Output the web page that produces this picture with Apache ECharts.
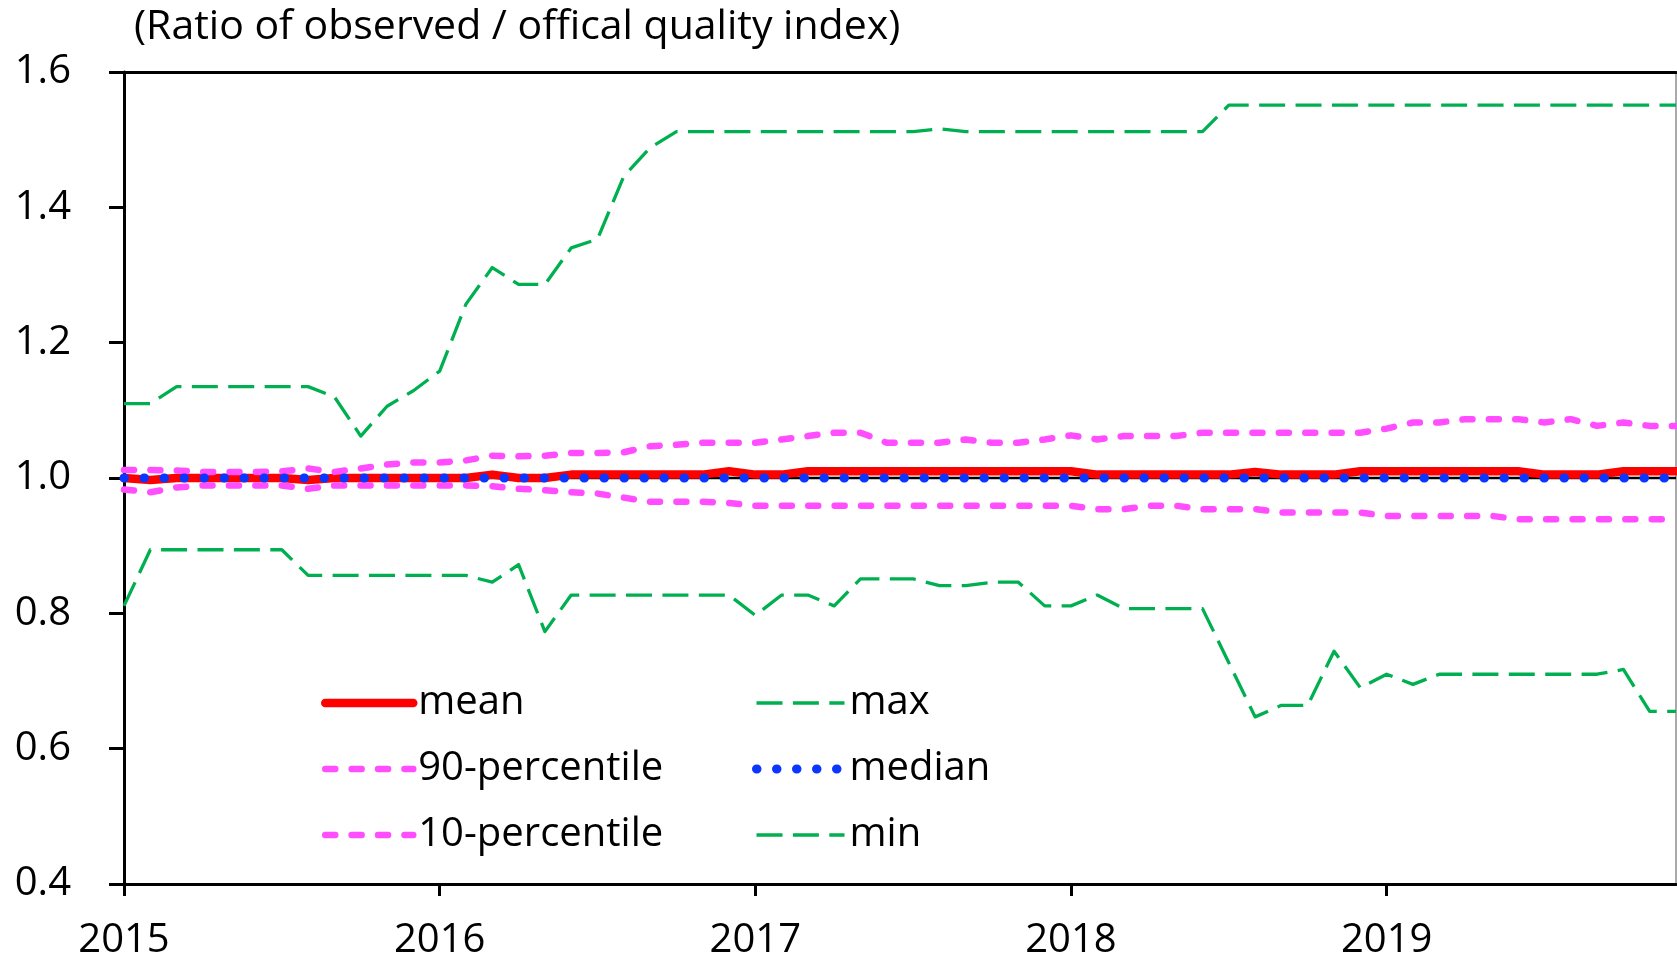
<!doctype html>
<html lang="en">
<head>
  <meta charset="utf-8">
  <title>Observed / official quality index</title>
  <script src="https://cdn.jsdelivr.net/npm/echarts@6/dist/echarts.min.js"></script>
  <style>
    html, body { margin: 0; padding: 0; background: #fff; }
    #chartmain { width: 1677px; height: 961px; }
  </style>
</head>
<body>
<div id="chartmain"></div>
<script>
  // monthly data, Jan 2015 .. Dec 2019
  var years = ['2015', '2016', '2017', '2018', '2019'];

  var meanData = [
    1.000, 0.997, 1.000, 1.000, 1.000, 1.000, 1.000, 0.997, 1.000, 1.000, 1.000, 1.000,
    1.000, 1.000, 1.005, 1.000, 1.000, 1.005, 1.005, 1.005, 1.005, 1.005, 1.005, 1.010,
    1.005, 1.005, 1.010, 1.010, 1.010, 1.010, 1.010, 1.010, 1.010, 1.010, 1.010, 1.010,
    1.010, 1.005, 1.005, 1.005, 1.005, 1.005, 1.005, 1.009, 1.005, 1.005, 1.005, 1.010,
    1.010, 1.010, 1.010, 1.010, 1.010, 1.010, 1.005, 1.005, 1.005, 1.010, 1.010, 1.010
  ];
  var p90Data = [
    1.012, 1.012, 1.011, 1.009, 1.009, 1.009, 1.010, 1.014, 1.009, 1.014, 1.020, 1.023,
    1.023, 1.026, 1.033, 1.032, 1.033, 1.037, 1.037, 1.038, 1.047, 1.049, 1.052, 1.052,
    1.052, 1.057, 1.062, 1.067, 1.067, 1.052, 1.052, 1.052, 1.057, 1.052, 1.052, 1.057,
    1.063, 1.057, 1.062, 1.062, 1.062, 1.067, 1.067, 1.067, 1.067, 1.067, 1.067, 1.067,
    1.073, 1.082, 1.082, 1.087, 1.087, 1.087, 1.082, 1.087, 1.077, 1.082, 1.077, 1.077
  ];
  var p10Data = [
    0.983, 0.979, 0.986, 0.989, 0.989, 0.989, 0.989, 0.984, 0.989, 0.989, 0.989, 0.989,
    0.989, 0.989, 0.988, 0.984, 0.982, 0.979, 0.977, 0.971, 0.965, 0.965, 0.965, 0.963,
    0.959, 0.959, 0.959, 0.959, 0.959, 0.959, 0.959, 0.959, 0.959, 0.959, 0.959, 0.959,
    0.959, 0.954, 0.954, 0.959, 0.959, 0.954, 0.954, 0.954, 0.949, 0.949, 0.949, 0.949,
    0.944, 0.944, 0.944, 0.944, 0.944, 0.939, 0.939, 0.939, 0.939, 0.939, 0.939, 0.939
  ];
  var maxData = [
    1.110, 1.110, 1.135, 1.135, 1.135, 1.135, 1.135, 1.135, 1.120, 1.062, 1.106, 1.129,
    1.158, 1.257, 1.311, 1.286, 1.286, 1.340, 1.353, 1.446, 1.488, 1.512, 1.512, 1.512,
    1.512, 1.512, 1.512, 1.512, 1.512, 1.512, 1.512, 1.516, 1.512, 1.512, 1.512, 1.512,
    1.512, 1.512, 1.512, 1.512, 1.512, 1.512, 1.551, 1.551, 1.551, 1.551, 1.551, 1.551,
    1.551, 1.551, 1.551, 1.551, 1.551, 1.551, 1.551, 1.551, 1.551, 1.551, 1.551, 1.551
  ];
  var medianData = [
    1.000, 1.000, 1.000, 1.000, 1.000, 1.000, 1.000, 1.000, 1.000, 1.000, 1.000, 1.000,
    1.000, 1.000, 1.000, 1.000, 1.000, 1.000, 1.000, 1.000, 1.000, 1.000, 1.000, 1.000,
    1.000, 1.000, 1.000, 1.000, 1.000, 1.000, 1.000, 1.000, 1.000, 1.000, 1.000, 1.000,
    1.000, 1.000, 1.000, 1.000, 1.000, 1.000, 1.000, 1.000, 1.000, 1.000, 1.000, 1.000,
    1.000, 1.000, 1.000, 1.000, 1.000, 1.000, 1.000, 1.000, 1.000, 1.000, 1.000, 1.000
  ];
  var minData = [
    0.811, 0.894, 0.894, 0.894, 0.894, 0.894, 0.894, 0.856, 0.856, 0.856, 0.856, 0.856,
    0.856, 0.856, 0.846, 0.872, 0.773, 0.827, 0.827, 0.827, 0.827, 0.827, 0.827, 0.827,
    0.797, 0.827, 0.827, 0.811, 0.851, 0.851, 0.851, 0.841, 0.841, 0.846, 0.846, 0.811,
    0.811, 0.827, 0.807, 0.807, 0.807, 0.807, 0.727, 0.647, 0.664, 0.664, 0.744, 0.690,
    0.710, 0.695, 0.710, 0.710, 0.710, 0.710, 0.710, 0.710, 0.710, 0.717, 0.655, 0.655
  ];
  var refLevel = 1.0;

  var FONT = '"Open Sans", Lato, sans-serif';

  var months = [];
  years.forEach(function (y) {
    for (var m = 1; m <= 12; m++) {
      months.push(y + '-' + (m < 10 ? '0' + m : m));
    }
  });
  var refData = months.map(function () { return refLevel; });

  // line looks
  var meanStyle = { color: '#ff0000', width: 8.5, type: 'solid', cap: 'round', join: 'round' };
  var pctStyle = { color: '#ff4dff', width: 6.5, type: [10, 16.4], cap: 'round', join: 'round' };
  var extStyle = { color: '#00b050', width: 3.3, type: [26, 10.4], cap: 'butt', join: 'round' };
  var medStyle = { color: '#0a36ff', width: 9, type: [0.5, 19.5], cap: 'round' };

  function lineSeries(name, data, style, z) {
    return {
      name: name,
      type: 'line',
      data: data,
      symbol: 'none',
      z: z,
      lineStyle: style,
      itemStyle: { color: style.color },
      emphasis: { disabled: true }
    };
  }

  // legend sample = the line only, symbol hidden
  function legendItem(name, style) {
    return { name: name, lineStyle: style, itemStyle: { color: style.color, opacity: 0 } };
  }

  var legendText = { fontFamily: FONT, fontSize: 40, lineHeight: 40, color: '#000' };

  function init() {
    var myChart = echarts.init(document.getElementById('chartmain'), null, { renderer: 'canvas' });
    var option = {
      backgroundColor: '#fff',
      animation: false,
      title: {
        text: '(Ratio of observed / offical quality index)',
        left: 134,
        top: 5,
        padding: 0,
        textStyle: { fontFamily: FONT, fontSize: 41, lineHeight: 44, fontWeight: 'normal', color: '#000' }
      },
      grid: {
        left: 124,
        top: 72,
        width: 1552,
        height: 814,
        show: true,
        borderColor: '#555',
        borderWidth: 1
      },
      legend: [
        {
          orient: 'vertical',
          left: 321,
          top: 683,
          padding: 0,
          itemWidth: 88,
          itemHeight: 14,
          itemGap: 26,
          selectedMode: false,
          textStyle: legendText,
          data: [
            legendItem('mean', meanStyle),
            legendItem('90-percentile', pctStyle),
            legendItem('10-percentile', pctStyle)
          ]
        },
        {
          orient: 'vertical',
          left: 752,
          top: 683,
          padding: 0,
          itemWidth: 88,
          itemHeight: 14,
          itemGap: 26,
          selectedMode: false,
          textStyle: legendText,
          data: [
            legendItem('max', extStyle),
            legendItem('median', medStyle),
            legendItem('min', extStyle)
          ]
        }
      ],
      xAxis: [
        {
          type: 'category',
          data: months,
          boundaryGap: false,
          axisLine: { show: true, lineStyle: { color: '#000', width: 3 } },
          axisTick: { show: true, inside: false, length: 12, interval: 11, lineStyle: { color: '#000', width: 3 } },
          axisLabel: {
            interval: 11,
            margin: 37,
            fontFamily: FONT,
            fontSize: 40,
            lineHeight: 40,
            color: '#000',
            formatter: function (v) { return v.slice(0, 4); }
          },
          splitLine: { show: false }
        },
        {
          type: 'category',
          position: 'top',
          data: months,
          boundaryGap: false,
          axisLine: { show: true, lineStyle: { color: '#000', width: 3 } },
          axisTick: { show: false },
          axisLabel: { show: false },
          splitLine: { show: false }
        }
      ],
      yAxis: {
        type: 'value',
        min: 0.4,
        max: 1.6,
        interval: 0.2,
        axisLine: { show: true, lineStyle: { color: '#000', width: 3 } },
        axisTick: { show: true, inside: false, length: 15, lineStyle: { color: '#000', width: 3 } },
        axisLabel: {
          margin: 53,
          fontFamily: FONT,
          fontSize: 40,
          color: '#000',
          formatter: function (v) { return v.toFixed(1); }
        },
        splitLine: { show: false }
      },
      series: [
        {
          name: 'ref',
          type: 'line',
          data: refData,
          symbol: 'none',
          z: 1,
          silent: true,
          lineStyle: { color: '#000', width: 2.5 },
          emphasis: { disabled: true }
        },
        lineSeries('mean', meanData, meanStyle, 3),
        lineSeries('90-percentile', p90Data, pctStyle, 4),
        lineSeries('10-percentile', p10Data, pctStyle, 4),
        lineSeries('max', maxData, extStyle, 4),
        lineSeries('median', medianData, medStyle, 5),
        lineSeries('min', minData, extStyle, 4)
      ]
    };
    myChart.setOption(option);
  }

  init();
</script>
</body>
</html>
